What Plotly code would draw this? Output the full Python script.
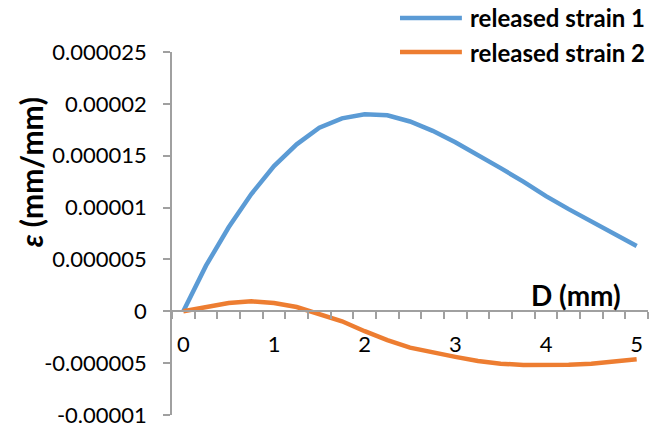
import plotly.graph_objects as go

# Displacement D (mm)
d_mm = [0, 0.25, 0.5, 0.75, 1, 1.25, 1.5, 1.75, 2, 2.25, 2.5,
        2.75, 3, 3.25, 3.5, 3.75, 4, 4.25, 4.5, 4.75, 5]

# Released strain (mm/mm)
strain_1 = [0, 4.4e-6, 8.1e-6, 11.3e-6, 14.0e-6, 16.1e-6, 17.7e-6, 18.6e-6,
            19.0e-6, 18.9e-6, 18.3e-6, 17.4e-6, 16.3e-6, 15.1e-6, 13.8e-6,
            12.5e-6, 11.1e-6, 9.85e-6, 8.65e-6, 7.45e-6, 6.3e-6]
strain_2 = [0, 0.35e-6, 0.8e-6, 0.96e-6, 0.8e-6, 0.41e-6, -0.25e-6, -0.96e-6,
            -1.92e-6, -2.78e-6, -3.5e-6, -4.0e-6, -4.4e-6, -4.8e-6, -5.05e-6,
            -5.17e-6, -5.2e-6, -5.15e-6, -5.05e-6, -4.85e-6, -4.63e-6]

series_names = ["released strain 1", "released strain 2"]
series_colors = ["#5B9BD5", "#ED7D31"]

y_tick_vals = [-1e-5, -5e-6, 0, 5e-6, 1e-5, 1.5e-5, 2e-5, 2.5e-5]
y_tick_text = ["-0.00001", "-0.000005", "0", "0.000005", "0.00001",
               "0.000015", "0.00002", "0.000025"]
x_tick_vals = [0, 1, 2, 3, 4, 5]
x_tick_text = ["0", "1", "2", "3", "4", "5"]

FONT = "Lato"
AXIS_GREY = "#A0A0A0"
Y_MIN, Y_MAX = -1e-5, 2.5e-5

fig = go.Figure()
for name, ys, col in zip(series_names, [strain_1, strain_2], series_colors):
    fig.add_trace(go.Scatter(x=d_mm, y=ys, mode="lines", name=name,
                             line=dict(color=col, width=4.5),
                             showlegend=False))

# x axis crosses the y axis at zero
x_pos = (0 - Y_MIN) / (Y_MAX - Y_MIN)

fig.update_layout(
    width=661, height=430,
    margin=dict(l=172, r=13, t=52, b=15, autoexpand=False),
    paper_bgcolor="white", plot_bgcolor="white",
    font=dict(family=FONT, size=22, color="#000000"),
    xaxis=dict(
        range=[-0.125, 5.125], anchor="free", position=x_pos,
        showgrid=False, zeroline=False,
        showline=True, linecolor=AXIS_GREY, linewidth=1.5,
        tickmode="array", tickvals=x_tick_vals, ticktext=x_tick_text,
        ticks="", ticklabelstandoff=14,
        minor=dict(ticks="outside", tick0=-0.125, dtick=0.25,
                   ticklen=7, tickwidth=1.5, tickcolor=AXIS_GREY,
                   showgrid=False),
        tickfont=dict(family=FONT, size=22),
    ),
    yaxis=dict(
        range=[Y_MIN, Y_MAX],
        showgrid=False, zeroline=False,
        showline=True, linecolor=AXIS_GREY, linewidth=1.5,
        tickmode="array", tickvals=y_tick_vals, ticktext=y_tick_text,
        ticks="outside", ticklen=7, tickwidth=1.5, tickcolor=AXIS_GREY,
        ticklabelstandoff=12, ticklabeloverflow="allow",
        tickfont=dict(family=FONT, size=22),
    ),
)

# Axis titles
fig.add_annotation(text="<b><i>ε</i> (mm/mm)</b>", xref="paper", yref="paper",
                   x=-0.296, y=0.669, textangle=-90, showarrow=False,
                   font=dict(family=FONT, size=30), xanchor="center",
                   yanchor="middle")
fig.add_annotation(text="<b>D (mm)</b>", xref="paper", yref="paper",
                   x=0.849, y=0.3306, showarrow=False,
                   font=dict(family=FONT, size=28), xanchor="center",
                   yanchor="middle")

# Legend drawn above the plot area with long line samples
legend_rows_y = [1.0937, 1.0]
for name, col, ly in zip(series_names, series_colors, legend_rows_y):
    fig.add_shape(type="line", xref="paper", yref="paper",
                  x0=0.479, x1=0.609, y0=ly, y1=ly,
                  line=dict(color=col, width=4.5))
    fig.add_annotation(text=f"<b>{name}</b>", xref="paper", yref="paper",
                       x=0.622, y=ly, xanchor="left", yanchor="middle",
                       showarrow=False, font=dict(family=FONT, size=24))

fig.write_html("out.html")
